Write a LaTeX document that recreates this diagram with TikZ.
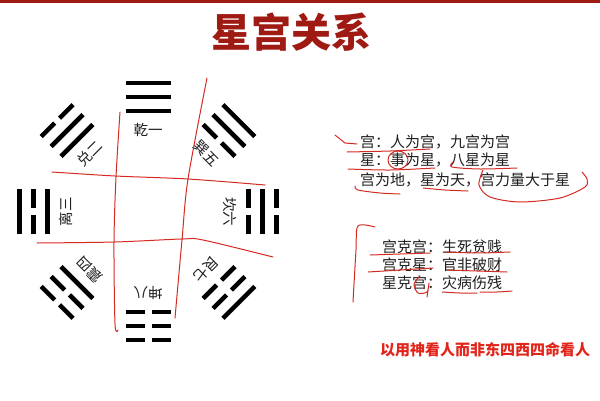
\documentclass[tikz,border=0pt]{standalone}
\usepackage{fontspec}
\usepackage{xcolor}
\newfontfamily\cjk{Noto Sans CJK SC}
\definecolor{titlered}{HTML}{9E1A13}
\definecolor{penred}{HTML}{D42A22}
\definecolor{notered}{HTML}{E2251B}
\definecolor{ink}{HTML}{1E1E1E}

\begin{document}
\begin{tikzpicture}[x=1pt, y=1pt,
    yao/.style={line width=4.5pt, black},
    pen/.style={penred, line width=1pt, line cap=round, line join=round},
    gua/.style={font=\cjk\fontsize{14.5}{14.5}\selectfont, text=ink, inner sep=0pt},
    txt/.style={font=\cjk\fontsize{15}{15}\selectfont, text=ink, anchor=west, inner sep=0pt}]
    \useasboundingbox (0,0) rectangle (600,400);
    \fill [titlered] (0,397) rectangle (600,400);
    \node[font=\cjk\bfseries\fontsize{40}{40}\selectfont, text=titlered] (title) at (291,368) {星宫关系};

    \begin{scope}[shift={(148,188.5)}]
    \foreach \a/\i/\m/\o/\name in {90/1/1/1/乾一, 135/1/1/0/兑二, 180/1/0/1/离三, 225/1/0/0/震四,
                                  45/0/1/1/巽五, 0/0/1/0/坎六, 315/0/0/1/艮七, 270/0/0/0/坤八} {
        \begin{scope}[rotate=\a-90]
        \foreach \r/\s in {100.5/\i, 114.5/\m, 128.5/\o} {
            \ifnum\s=1
              \draw [yao] (-22.5,\r) -- (22.5,\r);
            \else
              \draw [yao] (-22.5,\r) -- (-3.5,\r) (3.5,\r) -- (22.5,\r);
            \fi
        }
        \end{scope}
        \node[gua, rotate=\a-90] (g\a) at (\a:82) {\name};
    }
    \end{scope}

    \draw [pen] plot[smooth] coordinates {(120,288) (116,223) (114,158) (115,76) (118,70)};
    \draw [pen] plot[smooth] coordinates {(207,322) (188,221) (182,160) (175,82)};
    \draw [pen] plot[smooth] coordinates {(52,228) (115,224) (188,221) (265,215)};
    \draw [pen] plot[smooth] coordinates {(37,157) (115,158) (182,161) (203,160) (273,143)};

    \node[txt] (r1) at (360,258) {宫：人为宫，九宫为宫};
    \node[txt] (r2) at (360,240) {星：事为星，八星为星};
    \node[txt] (r3) at (360,220) {宫为地，星为天，宫力量大于星};
    \node[txt] (k1) at (382,153) {宫克宫：生死贫贱};
    \node[txt] (k2) at (382,135) {宫克星：官非破财};
    \node[txt] (k3) at (382,117) {星克宫：灾病伤残};
    \node[font=\cjk\bfseries\fontsize{15}{15}\selectfont, text=notered] (note) at (485,50) {以用神看人而非东四西四命看人};

    \draw [pen] (335,265) -- (345,257) -- (357,256);
    \draw [pen] plot[smooth] coordinates {(347,248) (390,249) (430,251)};
    \draw [pen] (398,240) ellipse (10 and 9);
    \draw [pen] plot[smooth] coordinates {(348,231) (390,230) (435,232)};
    \draw [pen] plot[smooth] coordinates {(453,238) (452,233) (480,231) (517,232)};
    \draw [pen] plot[smooth] coordinates {(355,214) (358,210) (380,207) (400,206)};
    \draw [pen] plot[smooth] coordinates {(423,212) (445,210) (468,209)};
    \draw [pen] plot[smooth] coordinates {(483,230) (479,215) (490,203) (520,198) (560,202) (585,213) (587,221) (582,228)};

    \draw [pen] plot[smooth] coordinates {(375,173) (358,174) (356,150) (353,98)};
    \draw [pen] plot[smooth] coordinates {(370,145) (400,146) (430,147)};
    \draw [pen] plot[smooth] coordinates {(445,148) (478,147) (510,148)};
    \draw [pen] plot[smooth] coordinates {(368,128) (400,130) (433,132)};
    \draw [pen] plot[smooth] coordinates {(447,130) (477,129) (507,128)};
    \draw [pen] plot[smooth] coordinates {(420,124) (414,116) (418,107) (427,108) (429,117) (427,103)};
    \draw [pen] plot[smooth] coordinates {(442,108) (460,107) (477,107)};
    \draw [pen] plot[smooth] coordinates {(480,108) (497,108) (512,109)};
\end{tikzpicture}
\end{document}
